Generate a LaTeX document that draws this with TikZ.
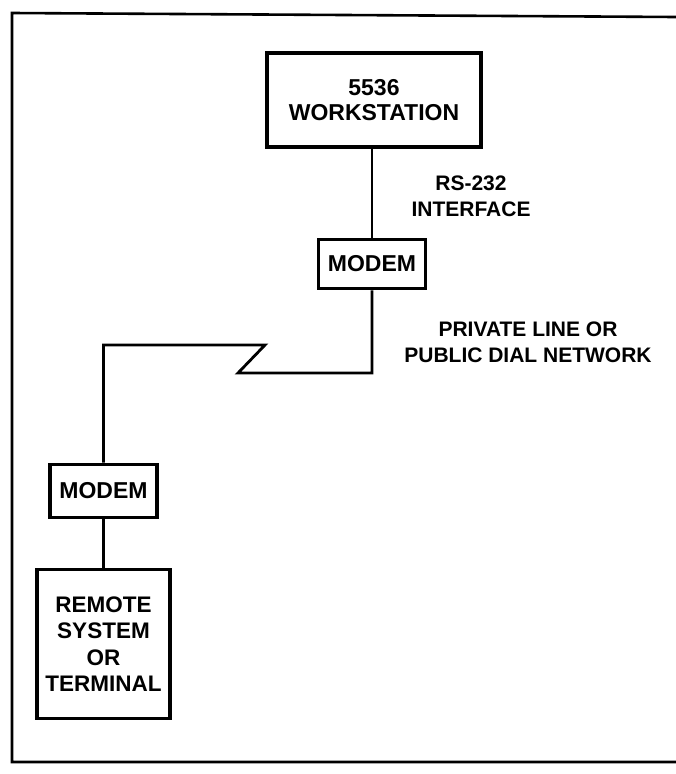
\documentclass[tikz,border=0pt]{standalone}
\usepackage{fontspec}
\setmainfont{Liberation Sans}
\begin{document}
\begin{tikzpicture}[x=1pt,y=-1pt,
  box/.style={draw=black,line width=3.6pt,inner sep=0pt,align=center,
    font=\bfseries\fontsize{23}{25.5}\selectfont},
  wire/.style={draw=black,line width=2.8pt,line join=miter},
  lbl/.style={align=center,inner sep=0pt,font=\bfseries\fontsize{21}{26}\selectfont},
  frame/.style={draw=black,line width=2.6pt}]
\useasboundingbox (0,0) rectangle (676,774);
\draw[frame] (676,17) -- (12,13) -- (12,762) -- (676,762);
\node[box,minimum width=214pt,minimum height=94pt] (ws) at (374,100) {5536\\WORKSTATION};
\node[box,minimum width=107pt,minimum height=49pt] (m1) at (372,264) {MODEM};
\node[box,minimum width=107pt,minimum height=53pt] (m2) at (103.5,491) {MODEM};
\node[box,minimum width=133pt,minimum height=149pt,font=\bfseries\fontsize{22.5}{26.5}\selectfont] (rem) at (103.5,644) {REMOTE\\SYSTEM\\OR\\TERMINAL};
\node[lbl] (l1) at (471,196) {RS-232\\INTERFACE};
\node[lbl] (l2) at (528,342) {PRIVATE LINE OR\\PUBLIC DIAL NETWORK};
\coordinate (zb) at (238,373);
\coordinate (zt) at (265,345);
\draw[wire] (ws.south -| m1.north) -- (m1.north);
\draw[wire] (m1.south) |- (zb) -- (zt) -| (m2.north);
\draw[wire] (m2.south) -- (rem.north);
\end{tikzpicture}
\end{document}
